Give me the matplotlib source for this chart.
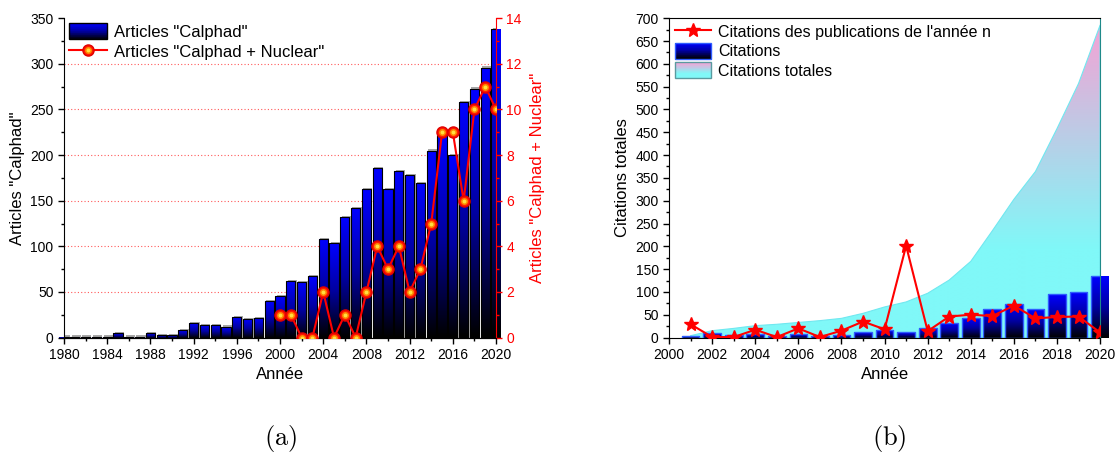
import numpy as np
import matplotlib
matplotlib.use("Agg")
import matplotlib.pyplot as plt
from matplotlib.colors import LinearSegmentedColormap
from matplotlib.legend_handler import HandlerBase, HandlerTuple
from matplotlib.patches import Rectangle
from matplotlib.lines import Line2D
from matplotlib.ticker import MultipleLocator

plt.rcParams['font.family'] = ['Liberation Sans', 'DejaVu Sans']

# (a) articles per year
years_a = np.arange(1980, 2021)
calphad = [1, 1, 1, 1, 1, 5, 1, 1, 5, 3, 3, 8, 16, 14, 14, 12, 22, 20, 21, 40,
           45, 62, 61, 67, 108, 104, 132, 142, 163, 186, 163, 183, 178, 169, 205, 222,
           200, 258, 273, 296, 338]
years_nuc = np.arange(2000, 2021)
nuclear = [1, 1, 0, 0, 2, 0, 1, 0, 2, 4, 3, 4, 2, 3, 5, 9, 9, 6, 10, 11, 10]

# (b) citations
years_b = np.arange(2001, 2021)
citations = [4, 10, 6, 7, 4, 7, 4, 6, 12, 17, 11, 20, 31, 42, 62, 74, 62, 96, 100, 134]
citations_year_n = [29, 1, 1, 17, 1, 20, 1, 15, 35, 18, 201, 14, 46, 50, 47, 70, 42, 45, 46, 11]
citations_totales = [4, 15, 20, 26, 29, 33, 37, 42, 53, 67, 78, 97, 126, 167, 234, 303,
                     364, 458, 557, 685]

bar_cmap = LinearSegmentedColormap.from_list('bar', ['#000000', '#0000a0', '#0000ff'])
area_cmap = LinearSegmentedColormap.from_list(
    'area', [(0, '#80f8f8'), (0.28, '#80f8f8'), (1, '#f8a0d4')])


def gradient_bars(ax, x, h, width, edgecolor, lw, shadow=False):
    if shadow:
        ax.bar(x + 0.12, np.asarray(h) + 1.2, width=width, color='#a8a8a8', zorder=2)
    bars = ax.bar(x, h, width=width, facecolor='none', edgecolor=edgecolor,
                  linewidth=lw, zorder=3)
    grad = np.linspace(0, 1, 64).reshape(-1, 1)
    for b in bars:
        im = ax.imshow(grad, cmap=bar_cmap, origin='lower', aspect='auto',
                       extent=(b.get_x(), b.get_x() + b.get_width(), 0, b.get_height()),
                       zorder=2.5, interpolation='bilinear')
        im.set_clip_path(b)
    return bars


class GradientHandler(HandlerBase):
    def __init__(self, cmap, edgecolor):
        super().__init__()
        self.cmap = cmap
        self.edgecolor = edgecolor

    def create_artists(self, legend, orig_handle, xdescent, ydescent, width, height,
                       fontsize, trans):
        n = 24
        out = []
        for i in range(n):
            out.append(Rectangle((-xdescent, -ydescent + i * height / n), width,
                                 height / n * 1.05, facecolor=self.cmap((i + 0.5) / n),
                                 edgecolor='none', transform=trans))
        out.append(Rectangle((-xdescent, -ydescent), width, height, facecolor='none',
                             edgecolor=self.edgecolor, lw=1.0, transform=trans))
        return out


fig = plt.figure(figsize=(11.19, 4.54), dpi=100)

# ---------------- (a) ----------------
ax1 = fig.add_axes([0.0572, 0.2566, 0.3861, 0.7031])
gradient_bars(ax1, years_a, calphad, 0.85, 'black', 0.8, shadow=True)
ax1.set_xlim(1980, 2020)
ax1.set_ylim(0, 350)
for v in range(50, 350, 50):
    ax1.axhline(v, color='#ff5a5a', ls=(0, (1, 2)), lw=0.8, zorder=1)
ax1.xaxis.set_major_locator(MultipleLocator(4))
ax1.xaxis.set_minor_locator(MultipleLocator(2))
ax1.yaxis.set_major_locator(MultipleLocator(50))
ax1.yaxis.set_minor_locator(MultipleLocator(25))
ax1.tick_params(which='major', direction='out', length=4, width=1, labelsize=10)
ax1.tick_params(which='minor', direction='out', length=2.5, width=1)
ax1.spines['top'].set_visible(False)
ax1.spines['right'].set_visible(False)
ax1.set_xlabel('Année', fontsize=12)
ax1.set_ylabel('Articles "Calphad"', fontsize=12, labelpad=4)

ax2 = ax1.twinx()
ax2.set_ylim(0, 14)
line_nuc, = ax2.plot(years_nuc, nuclear, color='red', lw=1.5, marker='o', ms=8,
                     mfc='#ff1a00', mec='#e00000', zorder=4)
hl1, = ax2.plot(years_nuc, nuclear, ls='none', marker='o', ms=5, mfc='#ff8a00',
                mec='none', zorder=5)
hl2, = ax2.plot(years_nuc, nuclear, ls='none', marker='o', ms=2.8, mfc='#ffe040',
                mec='none', zorder=6)
ax2.yaxis.set_major_locator(MultipleLocator(2))
ax2.yaxis.set_minor_locator(MultipleLocator(1))
ax2.tick_params(which='major', direction='out', length=4, width=1, colors='red',
                labelsize=10)
ax2.tick_params(which='minor', direction='out', length=2.5, width=1, colors='red')
ax2.spines['right'].set_color('red')
ax2.spines['top'].set_visible(False)
ax2.spines['left'].set_visible(False)
ax2.set_ylabel('Articles "Calphad + Nuclear"', fontsize=12, color='red', labelpad=6)

bar_proxy = Rectangle((0, 0), 1, 1)
leg1 = ax2.legend([bar_proxy, (line_nuc, hl1, hl2)],
                  ['Articles "Calphad"', 'Articles "Calphad + Nuclear"'],
                  handler_map={bar_proxy: GradientHandler(bar_cmap, 'black'),
                               tuple: HandlerTuple(ndivide=1)},
                  loc='upper left', bbox_to_anchor=(0.0, 1.0), frameon=False,
                  fontsize=12, handlelength=2.3, handleheight=1.1, handletextpad=0.4,
                  labelspacing=0.2, borderaxespad=0.1, borderpad=0.2)

# ---------------- (b) ----------------
ax3 = fig.add_axes([0.5979, 0.2566, 0.3852, 0.7031])
area = ax3.fill_between(years_b, 0, citations_totales, facecolor='none',
                        edgecolor='#70e8f0', lw=0.8, zorder=1)
grad_v = np.linspace(0, 1, 256).reshape(-1, 1)
im_area = ax3.imshow(grad_v, cmap=area_cmap, origin='lower', aspect='auto',
                     extent=(2000, 2020, 0, 700), zorder=0.9, interpolation='bilinear')
im_area.set_clip_path(area.get_paths()[0], ax3.transData)
gradient_bars(ax3, years_b, citations, 0.82, '#2e5cff', 1.0)
ax3.plot(years_b, citations_year_n, color='red', lw=1.5, marker='*', ms=10,
         zorder=5)
ax3.set_xlim(2000, 2020)
ax3.set_ylim(0, 700)
ax3.xaxis.set_major_locator(MultipleLocator(2))
ax3.xaxis.set_minor_locator(MultipleLocator(1))
ax3.yaxis.set_major_locator(MultipleLocator(50))
ax3.yaxis.set_minor_locator(MultipleLocator(25))
ax3.tick_params(which='major', direction='out', length=4, width=1, labelsize=10)
ax3.tick_params(which='minor', direction='out', length=2.5, width=1)
ax3.spines['right'].set_color('#1f8a8a')
ax3.set_xlabel('Année', fontsize=12)
ax3.set_ylabel('Citations totales', fontsize=12, labelpad=4)

star_proxy = Line2D([], [], color='red', lw=1.5, marker='*', ms=10)
cit_proxy = Rectangle((0, 0), 1, 1)
tot_proxy = Rectangle((0, 0), 1, 1)
ax3.legend([star_proxy, cit_proxy, tot_proxy],
           ["Citations des publications de l'année n", 'Citations', 'Citations totales'],
           handler_map={cit_proxy: GradientHandler(bar_cmap, '#2e5cff'),
                        tot_proxy: GradientHandler(area_cmap, '#5a9aa0')},
           loc='upper left', frameon=False, fontsize=11.5, handlelength=2.3,
           handleheight=1.1, handletextpad=0.4, labelspacing=0.2,
           borderaxespad=0.15, borderpad=0.2)

fig.text(0.251, 0.035, r'$\mathrm{(a)}$', fontsize=19, math_fontfamily='cm',
         ha='center', va='center')
fig.text(0.795, 0.035, r'$\mathrm{(b)}$', fontsize=19, math_fontfamily='cm',
         ha='center', va='center')

fig.savefig('out.png', dpi=100)
